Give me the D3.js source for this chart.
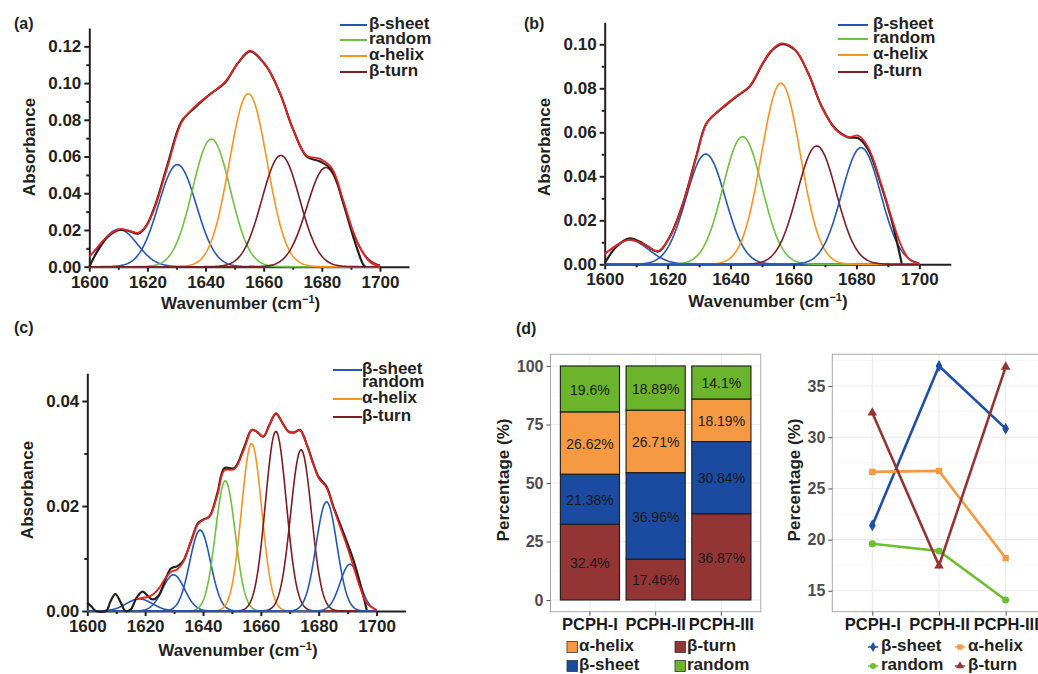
<!DOCTYPE html>
<html>
<head>
<meta charset="utf-8">
<script src="https://cdn.jsdelivr.net/npm/d3@7"></script>
<style>
  body { margin: 0; background: #fff; }
  svg text { font-family: 'Liberation Sans', Arial, sans-serif; }
  .ax path, .ax line { stroke: #231f20; stroke-width: 2; }
  .ax text { font-weight: bold; font-size: 17px; fill: #231f20; }
  .gg path, .gg line { stroke: #555; }
  .gg text { font-weight: bold; font-size: 16px; fill: #4d4d4d; }
  .gg.cat text { font-size: 16.5px; fill: #1a1a1a; }
</style>
</head>
<body>
<svg id="fig" width="1038" height="674"></svg>
<script>
// ---- data ----
const structures = ['β-sheet', 'random', 'α-helix', 'β-turn'];
const colours = { 'β-sheet': '#2457b3', 'random': '#6cc13f', 'α-helix': '#f7941f', 'β-turn': '#7a1d24' };

// (a) fitted bands: centre (cm-1), height, width (sigma)
const aPeakCentre = [1610.2, 1630.3, 1642.0, 1654.7, 1665.9, 1681.4];
const aPeakHeight = [0.0204, 0.0556, 0.0695, 0.0942, 0.0606, 0.0540];
const aPeakWidth = [6.3, 6.5, 6.5, 6.5, 6.5, 6.5];
const aPeakType = ['β-sheet', 'β-sheet', 'random', 'α-helix', 'β-turn', 'β-turn'];
// (a) measured spectrum
const aMeasWn = [1600, 1603, 1606.4, 1610.4, 1613.5, 1616.8, 1619.5, 1622.5, 1627, 1631.7, 1636.2, 1642, 1646.6,
  1651.2, 1655.3, 1661, 1665.6, 1670.2, 1674.8, 1679.4, 1683.4, 1687.4, 1690.8, 1694.3, 1695];
const aMeasAbs = [0, 0.009, 0.0164, 0.020, 0.0195, 0.018, 0.022, 0.0327, 0.056, 0.079, 0.0865, 0.0945, 0.100,
  0.111, 0.1173, 0.109, 0.0945, 0.0745, 0.060, 0.0573, 0.0527, 0.0345, 0.0164, 0.001, 0];
// (a) cumulative fit
const aFitWn = [1600, 1603, 1606.4, 1610.4, 1613.5, 1616.8, 1619.5, 1622.5, 1627, 1631.7, 1636.2, 1642, 1646.6,
  1651.2, 1655.3, 1661, 1665.6, 1670.2, 1674.8, 1679.4, 1683.4, 1687.4, 1690.8, 1694.3, 1697, 1700];
const aFitAbs = [0.0055, 0.011, 0.0168, 0.0205, 0.0197, 0.0185, 0.022, 0.032, 0.055, 0.0785, 0.087, 0.0945, 0.1005,
  0.111, 0.1177, 0.109, 0.0945, 0.0745, 0.0605, 0.0587, 0.0537, 0.036, 0.019, 0.007, 0.002, 0.0003];

// (b)
const bPeakCentre = [1607.9, 1632.1, 1643.8, 1656.0, 1667.4, 1681.5];
const bPeakHeight = [0.0110, 0.0501, 0.0580, 0.0823, 0.0538, 0.0530];
const bPeakWidth = [6.1, 6.2, 6.2, 6.2, 6.2, 6.2];
const bPeakType = ['β-sheet', 'β-sheet', 'random', 'α-helix', 'β-turn', 'β-sheet'];
const bMeasWn = [1600, 1603.7, 1607.9, 1612.2, 1617, 1620.7, 1624.9, 1629.1, 1632.3, 1636.5, 1641.8, 1646.1,
  1650.3, 1653, 1656.2, 1660.5, 1664.7, 1669, 1673.2, 1677.4, 1680.6, 1683.8, 1688, 1691.2, 1694.4];
const bMeasAbs = [0.0004, 0.008, 0.0118, 0.0095, 0.0058, 0.0126, 0.0277, 0.049, 0.064, 0.070, 0.0762, 0.0808,
  0.0914, 0.097, 0.1001, 0.0974, 0.0868, 0.0716, 0.0618, 0.0577, 0.0573, 0.052, 0.0353, 0.020, 0.0004];
const bFitWn = [1600, 1603.7, 1607.9, 1612.2, 1617, 1620.7, 1624.9, 1629.1, 1632.3, 1636.5, 1641.8, 1646.1,
  1650.3, 1653, 1656.2, 1660.5, 1664.7, 1669, 1673.2, 1677.4, 1680.6, 1683.8, 1688, 1691.2, 1694.4, 1697, 1700];
const bFitAbs = [0.0047, 0.0085, 0.0112, 0.0093, 0.006, 0.0124, 0.0275, 0.0487, 0.0638, 0.0702, 0.0764, 0.081,
  0.0916, 0.0972, 0.1004, 0.0976, 0.0868, 0.0716, 0.0616, 0.0578, 0.0585, 0.053, 0.036, 0.021, 0.008, 0.002, 0.0003];

// (c)
const cPeakCentre = [1618.0, 1629.8, 1639.0, 1647.7, 1656.8, 1665.2, 1673.9, 1682.7, 1690.8];
const cPeakHeight = [0.0023, 0.0069, 0.0154, 0.0248, 0.0319, 0.0342, 0.0307, 0.0208, 0.0089];
const cPeakWidth = [4.5, 3.8, 3.6, 3.4, 3.5, 3.6, 3.6, 3.6, 3.4];
const cPeakType = ['β-sheet', 'β-sheet', 'β-sheet', 'random', 'α-helix', 'β-turn', 'β-turn', 'β-sheet', 'β-sheet'];
const cMeasWn = [1600, 1601.5, 1603, 1606.5, 1608, 1609.7, 1611.5, 1613.2, 1615, 1617, 1619.1, 1621, 1622.5,
  1624.5, 1627, 1628.9, 1631, 1633, 1636, 1638.2, 1640, 1642.2, 1645, 1647.4, 1650.8, 1654.3, 1656.8, 1658.5,
  1660.8, 1663, 1665.2, 1667.5, 1669.5, 1671.5, 1673.5, 1676, 1678.1, 1680, 1682.7, 1685, 1687.3, 1689.5,
  1692, 1694.3, 1696.6];
const cMeasAbs = [0.0016, 0.0008, 0, 0, 0.0018, 0.0032, 0.0017, 0, 0.0003, 0.0025, 0.0037, 0.0028, 0.0022,
  0.0028, 0.0060, 0.0081, 0.0085, 0.0094, 0.0135, 0.0167, 0.0174, 0.018, 0.0225, 0.0272, 0.0272, 0.0313,
  0.0345, 0.0342, 0.0332, 0.0355, 0.0376, 0.0358, 0.0342, 0.0340, 0.0345, 0.0315, 0.0281, 0.0255, 0.0237,
  0.0200, 0.0167, 0.0135, 0.0097, 0.0053, 0.0002];
const cFitWn = [1617, 1619, 1621, 1623, 1625, 1627, 1629, 1631, 1633, 1636, 1638.2, 1640, 1642.2, 1645, 1647.4,
  1650.8, 1654.3, 1656.8, 1658.5, 1660.8, 1663, 1665.2, 1667.5, 1669.5, 1671.5, 1673.5, 1676, 1678.1, 1680,
  1682.7, 1685, 1687.3, 1689.5, 1692, 1694.3, 1696.6, 1700];
const cFitAbs = [0.0022, 0.0025, 0.0027, 0.0033, 0.0045, 0.0063, 0.0075, 0.0079, 0.0092, 0.0135, 0.0165, 0.0173,
  0.018, 0.0222, 0.0268, 0.027, 0.031, 0.0345, 0.0342, 0.0332, 0.0355, 0.0377, 0.0358, 0.0342, 0.034, 0.0345,
  0.0315, 0.028, 0.0253, 0.0235, 0.0198, 0.0162, 0.0128, 0.0085, 0.0045, 0.0015, 0.0002];

// (d)
const samples = ['PCPH-I', 'PCPH-II', 'PCPH-III'];
const betaSheet = [21.38, 36.96, 30.84];
const alphaHelix = [26.62, 26.71, 18.19];
const randomCoil = [19.6, 18.89, 14.1];
const betaTurn = [32.4, 17.46, 36.87];
const barTicks = [0, 25, 50, 75, 100];
const lineTicks = [15, 20, 25, 30, 35];

const svg = d3.select('#fig');
svg.append('rect').attr('width', 1038).attr('height', 674).attr('fill', '#fff');

function bold(sel, size) {
  return sel.attr('font-weight', 'bold').attr('font-size', size).attr('fill', '#231f20');
}

// ---- spectra panels ----
function spectrum(cfg) {
  const g = svg.append('g');
  const x = d3.scaleLinear().domain([1600, 1710]).range([cfg.left, cfg.right]);
  const y = d3.scaleLinear().domain([0, cfg.yTop]).range([cfg.bottom, cfg.top]);

  // axes
  g.append('g').attr('class', 'ax').attr('transform', `translate(0,${cfg.bottom})`)
    .call(d3.axisBottom(x).tickValues(d3.range(1610, 1710, 20)).tickSize(3).tickSizeOuter(0).tickFormat(''))
    .call(a => a.select('.domain').remove());
  g.append('g').attr('class', 'ax').attr('transform', `translate(0,${cfg.bottom})`)
    .call(d3.axisBottom(x).tickValues(d3.range(1600, 1701, 20)).tickSize(5).tickSizeOuter(0).tickPadding(4)
      .tickFormat(d3.format('d')));
  g.append('g').attr('class', 'ax').attr('transform', `translate(${cfg.left},0)`)
    .call(d3.axisLeft(y).tickValues(d3.range(cfg.yStep / 2, cfg.yTop, cfg.yStep)).tickSize(3).tickSizeOuter(0).tickFormat(''))
    .call(a => a.select('.domain').remove());
  g.append('g').attr('class', 'ax').attr('transform', `translate(${cfg.left},0)`)
    .call(d3.axisLeft(y).tickValues(d3.range(0, cfg.yTop, cfg.yStep)).tickSize(5).tickSizeOuter(0).tickPadding(3)
      .tickFormat(d3.format('.2f')));

  // fitted component bands
  const grid = d3.range(1600, 1700.001, 0.25);
  const band = i => v => cfg.height[i] * Math.exp(-((v - cfg.centre[i]) ** 2) / (2 * cfg.width[i] ** 2));
  const line = d3.line().x(d => x(d[0])).y(d => y(d[1]));
  cfg.centre.forEach((c, i) => {
    const f = band(i);
    g.append('path').attr('d', line(grid.map(v => [v, f(v)])))
      .attr('fill', 'none').attr('stroke', colours[cfg.type[i]]).attr('stroke-width', 1.6);
  });

  // measured spectrum and cumulative fit
  const smooth = d3.line().x(d => x(d[0])).y(d => y(d[1])).curve(d3.curveCatmullRom);
  g.append('path').attr('d', smooth(cfg.measWn.map((v, i) => [v, cfg.measAbs[i]])))
    .attr('fill', 'none').attr('stroke', '#231f20').attr('stroke-width', 2.2);
  g.append('path').attr('d', smooth(cfg.fitWn.map((v, i) => [v, cfg.fitAbs[i]])))
    .attr('fill', 'none').attr('stroke', '#e8231f').attr('stroke-width', 1.8);

  // titles
  bold(g.append('text'), 17).attr('x', (cfg.left + x(1700)) / 2 + 6).attr('y', cfg.bottom + cfg.xTitleDy)
    .attr('text-anchor', 'middle').html('Wavenumber (cm<tspan font-size="11" dy="-6">−1</tspan><tspan dy="6">)</tspan>');
  bold(g.append('text'), 17).attr('transform', `translate(${cfg.left - 59},${cfg.absY}) rotate(-90)`)
    .attr('text-anchor', 'middle').attr('dominant-baseline', 'middle').text('Absorbance');
  bold(g.append('text'), 16).attr('x', cfg.tag[0]).attr('y', cfg.tag[1]).text(cfg.tagText);

  // legend
  cfg.legend.rows.forEach((r, i) => {
    if (cfg.legend.lines[i]) {
      g.append('line').attr('x1', cfg.legend.x0).attr('x2', cfg.legend.x1).attr('y1', r).attr('y2', r)
        .attr('stroke', colours[structures[i]]).attr('stroke-width', 2);
    }
    bold(g.append('text'), 17).attr('x', cfg.legend.tx).attr('y', r).attr('dominant-baseline', 'middle')
      .text(structures[i]);
  });
}

spectrum({ left: 89.3, right: 409, bottom: 266.7, top: 28, yTop: 0.130, yStep: 0.02,
  centre: aPeakCentre, height: aPeakHeight, width: aPeakWidth, type: aPeakType,
  measWn: aMeasWn, measAbs: aMeasAbs, fitWn: aFitWn, fitAbs: aFitAbs,
  tag: [14, 29], tagText: '(a)', absY: 147, xTitleDy: 42,
  legend: { x0: 340, x1: 367, tx: 369, rows: [25, 40, 56, 72], lines: [1, 1, 1, 1] } });

spectrum({ left: 604.7, right: 950.8, bottom: 264.3, top: 22.3, yTop: 0.110, yStep: 0.02,
  centre: bPeakCentre, height: bPeakHeight, width: bPeakWidth, type: bPeakType,
  measWn: bMeasWn, measAbs: bMeasAbs, fitWn: bFitWn, fitAbs: bFitAbs,
  tag: [524, 29], tagText: '(b)', absY: 147, xTitleDy: 43,
  legend: { x0: 838, x1: 868, tx: 873, rows: [25, 39, 55, 72], lines: [1, 1, 1, 1] } });

spectrum({ left: 87.3, right: 405.5, bottom: 611, top: 373.2, yTop: 0.0453, yStep: 0.02,
  centre: cPeakCentre, height: cPeakHeight, width: cPeakWidth, type: cPeakType,
  measWn: cMeasWn, measAbs: cMeasAbs, fitWn: cFitWn, fitAbs: cFitAbs,
  tag: [14, 333], tagText: '(c)', absY: 490, xTitleDy: 45,
  legend: { x0: 333, x1: 362, tx: 362, rows: [370, 383, 399, 417], lines: [1, 0, 1, 1] } });

// ---- (d) stacked bars ----
const table = samples.map((s, i) => ({ sample: s, 'β-turn': betaTurn[i], 'β-sheet': betaSheet[i],
  'α-helix': alphaHelix[i], 'random': randomCoil[i] }));
const barFill = { 'β-turn': '#943535', 'β-sheet': '#1b4ba0', 'α-helix': '#f59a43', 'random': '#6bb42c' };
{
  const g = svg.append('g');
  const L = 550.5, R = 760.8, T = 354.3, B = 611.7;
  const x = d3.scaleBand().domain(samples).range([L, R]).paddingInner(0.1).paddingOuter(0.15);
  const y = d3.scaleLinear().domain([-5, 105]).range([B, T]);
  d3.range(12.5, 100, 25).forEach(v => g.append('line').attr('x1', L).attr('x2', R).attr('y1', y(v)).attr('y2', y(v))
    .attr('stroke', '#f2f2f2').attr('stroke-width', 0.6));
  barTicks.forEach(v => g.append('line').attr('x1', L).attr('x2', R).attr('y1', y(v)).attr('y2', y(v))
    .attr('stroke', '#ebebeb').attr('stroke-width', 1.1));
  samples.forEach(s => g.append('line').attr('x1', x(s) + x.bandwidth() / 2).attr('x2', x(s) + x.bandwidth() / 2)
    .attr('y1', T).attr('y2', B).attr('stroke', '#ebebeb').attr('stroke-width', 1.1));

  const stack = d3.stack().keys(['β-turn', 'β-sheet', 'α-helix', 'random'])(table);
  stack.forEach(layer => {
    layer.forEach(d => {
      g.append('rect').attr('x', x(d.data.sample)).attr('width', x.bandwidth())
        .attr('y', y(d[1])).attr('height', y(d[0]) - y(d[1]))
        .attr('fill', barFill[layer.key]).attr('stroke', '#1a1a1a').attr('stroke-width', 1.1);
      g.append('text').attr('x', x(d.data.sample) + x.bandwidth() / 2).attr('y', y((d[0] + d[1]) / 2) + 2)
        .attr('text-anchor', 'middle').attr('dominant-baseline', 'middle').attr('font-size', 14)
        .attr('fill', '#1a1a1a').text(d.data[layer.key] + '%');
    });
  });
  g.append('rect').attr('x', L).attr('y', T).attr('width', R - L).attr('height', B - T)
    .attr('fill', 'none').attr('stroke', '#a8a8a8').attr('stroke-width', 1);

  g.append('g').attr('class', 'gg').attr('transform', `translate(${L},0)`)
    .call(d3.axisLeft(y).tickValues(barTicks).tickSize(4).tickPadding(3))
    .call(a => a.select('.domain').remove());
  g.append('g').attr('class', 'gg cat').attr('transform', `translate(0,${B})`)
    .call(d3.axisBottom(x).tickSize(4).tickPadding(3))
    .call(a => a.select('.domain').remove());
  bold(g.append('text'), 17).attr('transform', `translate(505,480) rotate(-90)`)
    .attr('text-anchor', 'middle').attr('dominant-baseline', 'middle').text('Percentage (%)');
  bold(g.append('text'), 16).attr('x', 516).attr('y', 334).text('(d)');

  const keys = [['α-helix', 567, 647], ['β-turn', 675, 647], ['β-sheet', 567, 666], ['random', 675, 666]];
  keys.forEach(([k, kx, ky]) => {
    g.append('rect').attr('x', kx).attr('y', ky - 5.5).attr('width', 10.5).attr('height', 11)
      .attr('fill', barFill[k]).attr('stroke', '#333').attr('stroke-width', 0.8);
    bold(g.append('text'), 17).attr('x', kx + 12).attr('y', ky).attr('dominant-baseline', 'middle').text(k);
  });
}

// ---- (d) lines ----
{
  const series = [['β-sheet', betaSheet, d3.symbolDiamond], ['α-helix', alphaHelix, d3.symbolSquare],
    ['random', randomCoil, d3.symbolCircle], ['β-turn', betaTurn, d3.symbolTriangle]];
  const lineCol = { 'β-sheet': '#1f4ea6', 'α-helix': '#f59a43', 'random': '#6bbf2e', 'β-turn': '#943535' };
  const g = svg.append('g');
  const L = 832.3, R = 1045.7, T = 354.3, B = 611.7;
  const all = [].concat(betaSheet, alphaHelix, randomCoil, betaTurn);
  const ext = d3.extent(all), pad = (ext[1] - ext[0]) * 0.05;
  const x = d3.scalePoint().domain(samples).range([L, R]).padding(0.6);
  const y = d3.scaleLinear().domain([ext[0] - pad, ext[1] + pad]).range([B, T]);
  d3.range(17.5, 38, 5).forEach(v => g.append('line').attr('x1', L).attr('x2', R).attr('y1', y(v)).attr('y2', y(v))
    .attr('stroke', '#f2f2f2').attr('stroke-width', 0.6));
  lineTicks.forEach(v => g.append('line').attr('x1', L).attr('x2', R).attr('y1', y(v)).attr('y2', y(v))
    .attr('stroke', '#ebebeb').attr('stroke-width', 1.1));
  samples.forEach(s => g.append('line').attr('x1', x(s)).attr('x2', x(s)).attr('y1', T).attr('y2', B)
    .attr('stroke', '#ebebeb').attr('stroke-width', 1.1));
  g.append('rect').attr('x', L).attr('y', T).attr('width', R - L).attr('height', B - T)
    .attr('fill', 'none').attr('stroke', '#a8a8a8').attr('stroke-width', 1);

  const line = d3.line().x((d, i) => x(samples[i])).y(d => y(d));
  series.forEach(([k, vals, sym]) => {
    g.append('path').attr('d', line(vals)).attr('fill', 'none').attr('stroke', lineCol[k]).attr('stroke-width', 2.6);
    vals.forEach((v, i) => g.append('path').attr('d', d3.symbol(sym, 40)())
      .attr('transform', `translate(${x(samples[i])},${y(v)})`).attr('fill', lineCol[k]));
  });

  g.append('g').attr('class', 'gg').attr('transform', `translate(${L},0)`)
    .call(d3.axisLeft(y).tickValues(lineTicks).tickSize(4).tickPadding(3))
    .call(a => a.select('.domain').remove());
  g.append('g').attr('class', 'gg cat').attr('transform', `translate(0,${B})`)
    .call(d3.axisBottom(x).tickSize(4).tickPadding(3))
    .call(a => a.select('.domain').remove());
  bold(g.append('text'), 17).attr('transform', `translate(796,480) rotate(-90)`)
    .attr('text-anchor', 'middle').attr('dominant-baseline', 'middle').text('Percentage (%)');

  const keys = [[0, 873, 647], [1, 960, 647], [2, 873, 666], [3, 960, 666]];
  keys.forEach(([i, kx, ky]) => {
    const [k, , sym] = series[i];
    g.append('line').attr('x1', kx - 5).attr('x2', kx + 5).attr('y1', ky).attr('y2', ky)
      .attr('stroke', lineCol[k]).attr('stroke-width', 1.5);
    g.append('path').attr('d', d3.symbol(sym, 28)()).attr('transform', `translate(${kx},${ky})`).attr('fill', lineCol[k]);
    bold(g.append('text'), 17).attr('x', kx + 8).attr('y', ky).attr('dominant-baseline', 'middle').text(k);
  });
}
</script>
</body>
</html>
